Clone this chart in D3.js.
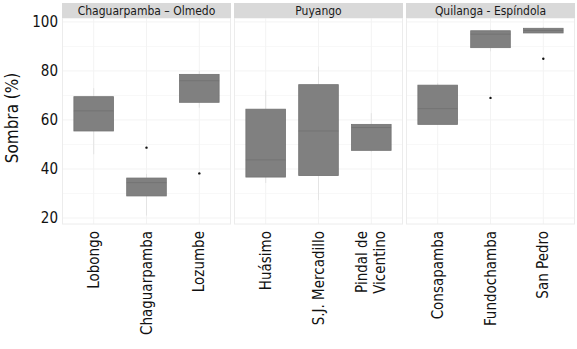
<!DOCTYPE html>
<html>
<head>
<meta charset="utf-8">
<script src="https://cdn.jsdelivr.net/npm/d3@7"></script>
<style>
  html, body { margin: 0; padding: 0; background: #fff; }
  svg text { font-family: "DejaVu Sans Condensed", "DejaVu Sans", sans-serif; font-stretch: condensed; }
</style>
</head>
<body>
<svg id="chart" width="577" height="349"></svg>
<script>
// --- Data ---
const regions = ["Chaguarpamba \u2013 Olmedo", "Puyango", "Quilanga - Esp\u00edndola"];
const categories = [
  ["Lobongo", "Chaguarpamba", "Lozumbe"],
  ["Hu\u00e1simo", "S.J. Mercadillo", "Pindal de\nVicentino"],
  ["Consapamba", "Fundochamba", "San Pedro"]
];
const whiskerLow  = [[46, 21, 65],     [34.3, 27.3, 47],   [58, 88, 95.5]];
const q1Values    = [[55.5, 29, 67.2], [36.7, 37.3, 47.6], [58.2, 89.5, 95.5]];
const medians     = [[63.7, 34.4, 76], [43.7, 55.5, 56.9], [64.6, 95, 96.5]];
const q3Values    = [[69.5, 36.3, 78.6], [64.4, 74.4, 58.2], [74.2, 96.4, 97.4]];
const whiskerHigh = [[73, 38, 80],     [72, 81.8, 62.8],   [75, 97, 98]];
const outliers    = [[[], [48.7], [38.2]], [[], [], []], [[], [69], [85]]];
const yTicks = [20, 40, 60, 80, 100];

// --- Layout ---
const svg = d3.select("#chart");
const panelLeft = 62, panelW = 169, panelGap = 3;
const stripTop = 3, stripH = 15;
const panelTop = stripTop + stripH, panelBottom = 224;

const y = d3.scaleLinear().domain([17.55, 101.6]).range([panelBottom, panelTop]);

// Y axis labels
svg.append("g")
  .selectAll("text")
  .data(yTicks)
  .join("text")
  .attr("x", panelLeft - 4)
  .attr("y", d => y(d))
  .attr("dy", "0.36em")
  .attr("text-anchor", "end")
  .attr("font-size", 15)
  .attr("fill", "#111")
  .text(d => d);

svg.append("text")
  .attr("transform", `translate(18,${(panelTop + panelBottom) / 2 - 3}) rotate(-90)`)
  .attr("text-anchor", "middle")
  .attr("font-size", 17)
  .attr("fill", "#111")
  .text("Sombra (%)");

regions.forEach((region, p) => {
  const x0 = panelLeft + p * (panelW + panelGap);
  const g = svg.append("g").attr("transform", `translate(${x0},0)`);

  const x = d3.scalePoint()
    .domain(categories[p])
    .range([0, panelW])
    .padding(0.6);
  const bw = x.step() * 0.75;

  // panel background + grid
  g.append("rect")
    .attr("x", 0).attr("y", panelTop)
    .attr("width", panelW).attr("height", panelBottom - panelTop)
    .attr("fill", "#fff");

  const grid = g.append("g");
  grid.selectAll("line.hy")
    .data(yTicks)
    .join("line")
    .attr("x1", 0).attr("x2", panelW)
    .attr("y1", d => y(d)).attr("y2", d => y(d))
    .attr("stroke", "#f3f3f3");
  grid.selectAll("line.hminor")
    .data(yTicks.slice(0, -1).map(d => d + 10))
    .join("line")
    .attr("x1", 0).attr("x2", panelW)
    .attr("y1", d => y(d)).attr("y2", d => y(d))
    .attr("stroke", "#f8f8f8");
  grid.selectAll("line.vx")
    .data(categories[p])
    .join("line")
    .attr("x1", d => x(d)).attr("x2", d => x(d))
    .attr("y1", panelTop).attr("y2", panelBottom)
    .attr("stroke", "#f3f3f3");

  g.append("rect")
    .attr("x", 0.5).attr("y", panelTop)
    .attr("width", panelW - 1).attr("height", panelBottom - panelTop)
    .attr("fill", "none")
    .attr("stroke", "#ececec");

  // strip
  g.append("rect")
    .attr("x", 0).attr("y", stripTop)
    .attr("width", panelW).attr("height", stripH)
    .attr("fill", "#d9d9d9");
  g.append("text")
    .attr("x", panelW / 2)
    .attr("y", stripTop + stripH / 2)
    .attr("dy", "0.36em")
    .attr("text-anchor", "middle")
    .attr("font-size", 12)
    .attr("fill", "#1a1a1a")
    .text(region);

  // boxes
  const rows = categories[p].map((c, i) => ({
    cat: c,
    lo: whiskerLow[p][i], q1: q1Values[p][i], med: medians[p][i],
    q3: q3Values[p][i], hi: whiskerHigh[p][i], out: outliers[p][i]
  }));

  const bg = g.selectAll("g.box").data(rows).join("g").attr("class", "box");

  bg.append("line")
    .attr("x1", d => x(d.cat)).attr("x2", d => x(d.cat))
    .attr("y1", d => y(d.hi)).attr("y2", d => y(d.q3))
    .attr("stroke", "#e4e4e4");
  bg.append("line")
    .attr("x1", d => x(d.cat)).attr("x2", d => x(d.cat))
    .attr("y1", d => y(d.q1)).attr("y2", d => y(d.lo))
    .attr("stroke", "#e4e4e4");

  bg.append("rect")
    .attr("x", d => x(d.cat) - bw / 2)
    .attr("y", d => y(d.q3))
    .attr("width", bw)
    .attr("height", d => y(d.q1) - y(d.q3))
    .attr("fill", "#808080")
    .attr("stroke", "#727272")
    .attr("stroke-width", 0.8);

  bg.append("line")
    .attr("x1", d => x(d.cat) - bw / 2).attr("x2", d => x(d.cat) + bw / 2)
    .attr("y1", d => y(d.med)).attr("y2", d => y(d.med))
    .attr("stroke", "#737373")
    .attr("stroke-width", 1);

  bg.each(function (d) {
    d3.select(this).selectAll("circle")
      .data(d.out)
      .join("circle")
      .attr("cx", x(d.cat))
      .attr("cy", v => y(v))
      .attr("r", 1.2)
      .attr("fill", "#111");
  });

  // x labels (rotated)
  const lab = g.selectAll("text.xlab")
    .data(categories[p])
    .join("text")
    .attr("class", "xlab")
    .attr("transform", d => {
      const lines = d.split("\n").length;
      return `translate(${x(d) + 5 - (lines - 1) * 9},${panelBottom + 7}) rotate(-90)`;
    })
    .attr("text-anchor", "end")
    .attr("font-size", 15)
    .attr("fill", "#111");
  lab.each(function (d) {
    d.split("\n").forEach((line, i) => {
      d3.select(this).append("tspan")
        .attr("x", 0)
        .attr("dy", i === 0 ? 0 : 18)
        .text(line);
    });
  });
});
</script>
</body>
</html>
